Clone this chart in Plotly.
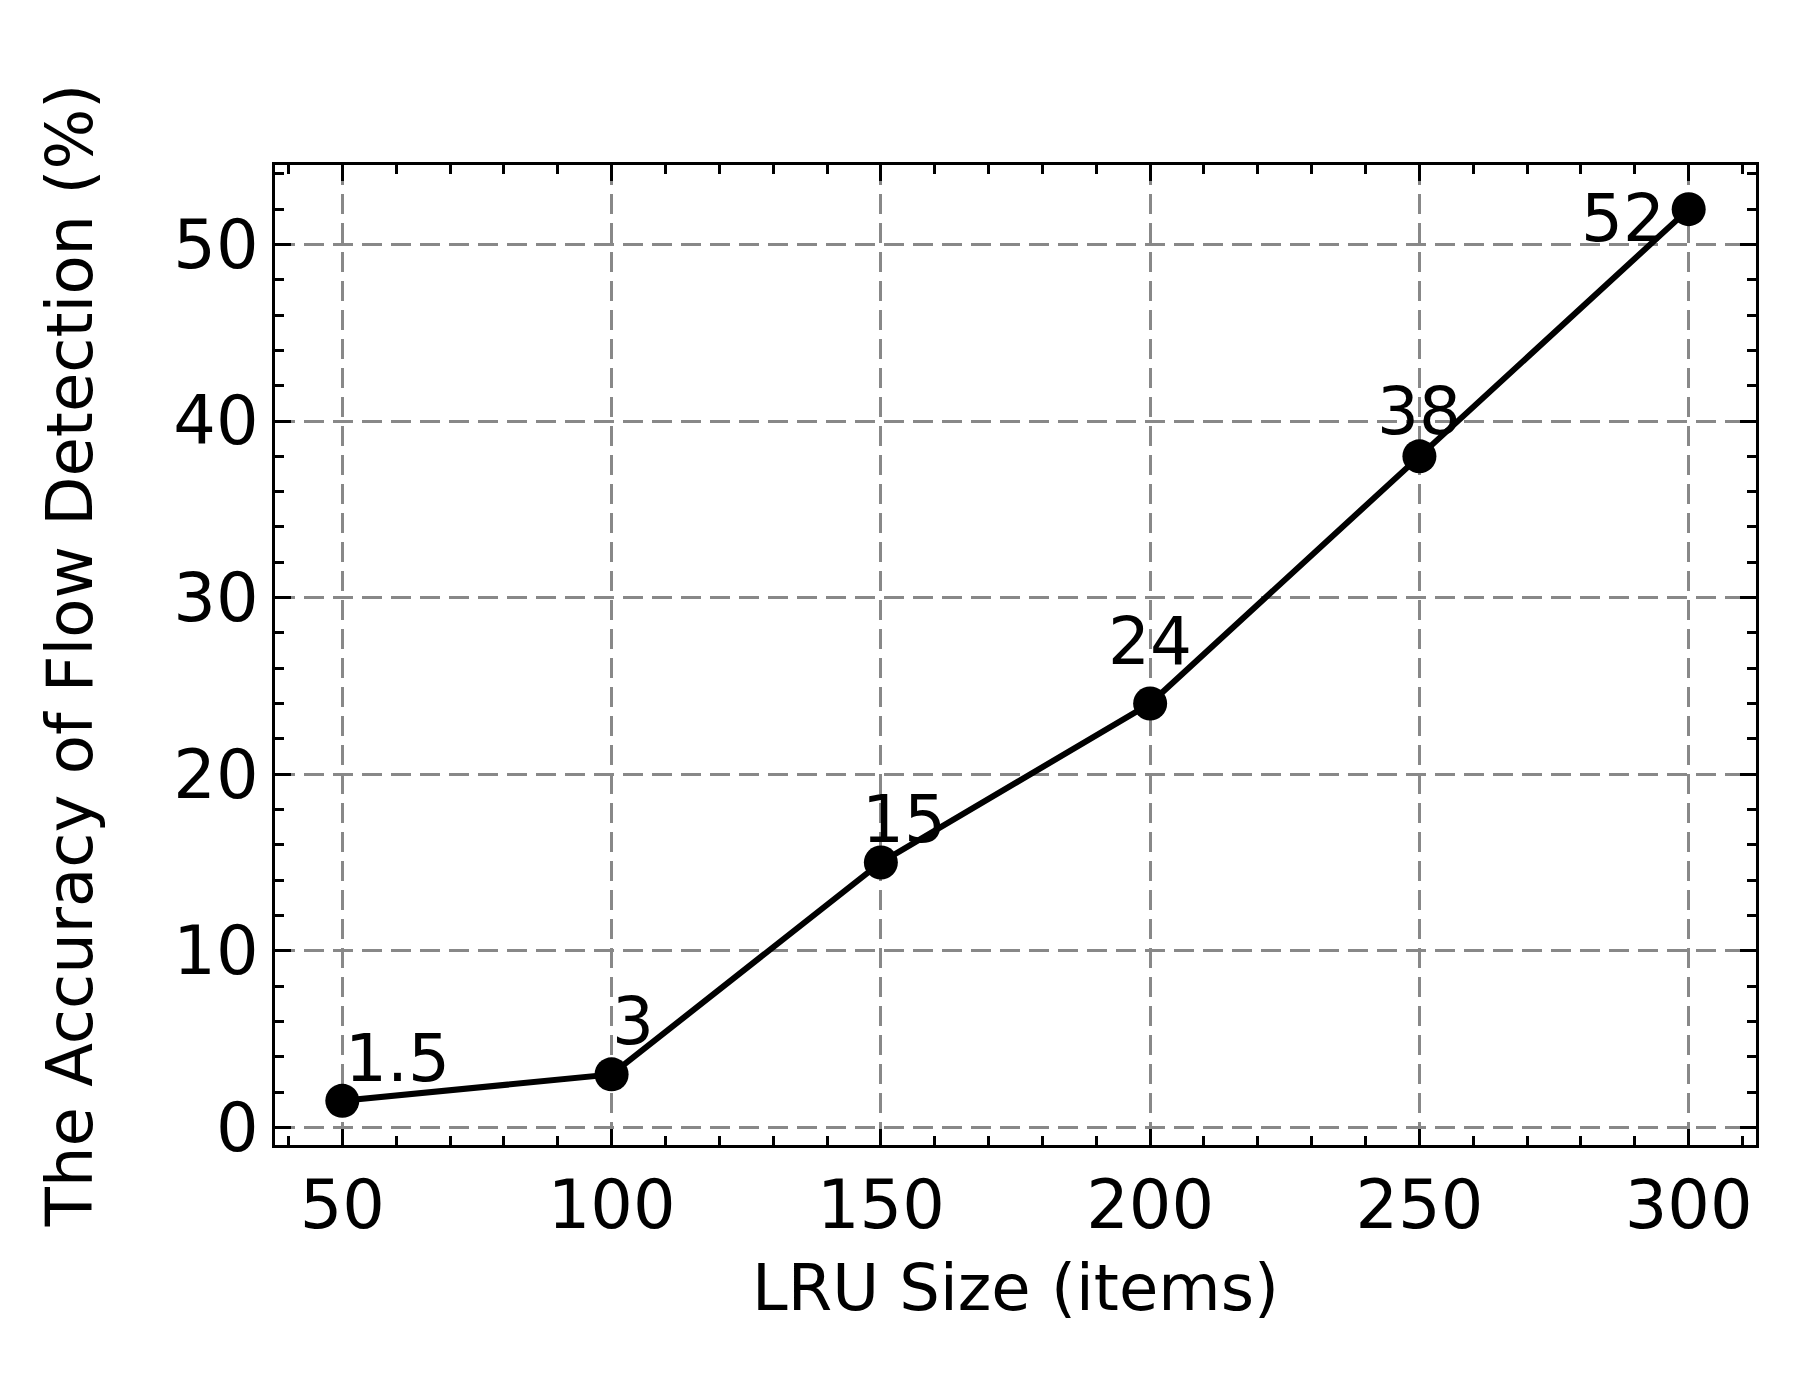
import plotly.graph_objects as go

lru_size = [50, 100, 150, 200, 250, 300]
accuracy = [1.5, 3, 15, 24, 38, 52]
labels = ["1.5", "3", "15", "24", "38", "52"]

# label offsets in px (x, y) relative to each point
shifts = [(55, 2), (21, 12), (23, 2), (0, 22), (0, 4), (-66, -50)]

fig = go.Figure(go.Scatter(x=lru_size, y=accuracy, mode="lines+markers",
                           line=dict(color="black", width=6),
                           marker=dict(color="black", size=34)))

for x, y, t, (dx, dy) in zip(lru_size, accuracy, labels, shifts):
    fig.add_annotation(x=x, y=y, text=t, showarrow=False, xanchor="center",
                       yanchor="bottom", xshift=dx, yshift=dy,
                       font=dict(size=66, color="black"))

axis = dict(showline=True, linecolor="black", linewidth=3, mirror="allticks",
            ticks="inside", ticklen=16, tickwidth=3, tickcolor="black",
            showgrid=True, gridcolor="#888", griddash="20px,9px", gridwidth=3,
            zeroline=False, tickfont=dict(size=67, color="black"),
            title_font=dict(size=64, color="black"))

fig.update_xaxes(**axis, range=[37.5, 312.5], tickvals=lru_size,
                 minor=dict(dtick=10, ticks="inside", ticklen=9, tickwidth=2.5, tickcolor="black", showgrid=False),
                 title_text="LRU Size (items)", title_standoff=22)
fig.update_yaxes(**axis, range=[-1, 54.5], dtick=10,
                 minor=dict(dtick=2, ticks="inside", ticklen=9, tickwidth=2.5, tickcolor="black", showgrid=False),
                 title_text="The Accuracy of Flow Detection (%)", title_standoff=60)

fig.update_layout(width=1803, height=1377, plot_bgcolor="white", paper_bgcolor="white",
                  showlegend=False, font=dict(family="DejaVu Sans"),
                  margin=dict(l=267, r=55, t=157, b=240))
fig.write_html("out.html")
